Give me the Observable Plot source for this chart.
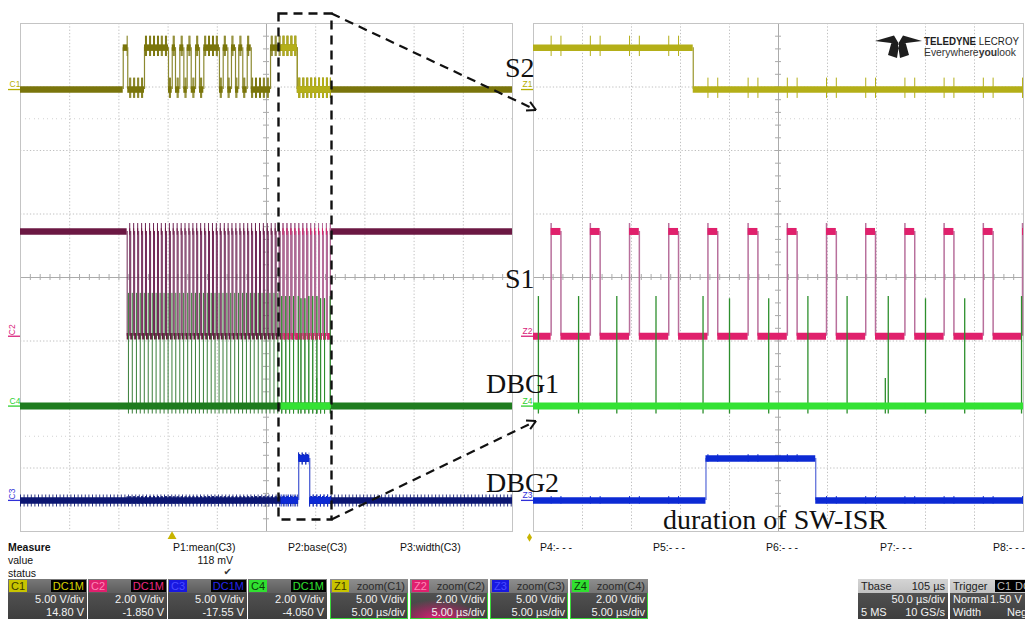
<!DOCTYPE html>
<html>
<head>
<meta charset="utf-8">
<script src="https://cdn.jsdelivr.net/npm/d3@7"></script>
<script src="https://cdn.jsdelivr.net/npm/@observablehq/plot@0.6"></script>
<style>
html,body{margin:0;padding:0;background:#fff;}
#root{position:relative;width:1025px;height:619px;overflow:hidden;background:#fff;font-family:"Liberation Sans",Arial,sans-serif;}
#root svg.panel{position:absolute;top:22px;overflow:visible;}
.m{position:absolute;font-size:10.5px;line-height:12px;color:#111;white-space:nowrap;}
.box{position:absolute;top:579px;height:40px;box-sizing:border-box;background:linear-gradient(#5a5a5a,#3e3e3e);color:#f2f2f2;font-size:11px;line-height:13px;white-space:nowrap;}
.box .h{position:relative;height:14px;line-height:14px;background:linear-gradient(#787878,#5c5c5c);}
.box .r{position:relative;height:13px;}
.box .l{position:absolute;left:3px;top:0;}
.box .rt{position:absolute;right:3px;top:0;}
.tag{position:absolute;top:1px;height:12px;line-height:12px;padding:0 2px;font-size:11px;}
</style>
</head>
<body>
<div id="root"></div>
<script>
// ---------------- data ----------------
const channels    = ["C1", "C2", "C3", "C4"];
const signalNames = ["S2", "S1", "DBG2", "DBG1"];
const vPerDiv     = [5.00, 2.00, 5.00, 2.00];          // V/div
const offsets     = [14.80, -1.850, -17.55, -4.050];   // V
const timePerDiv  = 50;     // µs/div, main timebase
const zoomPerDiv  = 5;      // µs/div, zoom traces
const zoomStart   = 265;    // µs, left edge of the zoom window
const logicHigh   = 3.3;    // V
const triggerTime = 154;    // µs
const tbaseDelay  = "105 µs";
const measureNames  = ["P1:mean(C3)", "P2:base(C3)", "P3:width(C3)", "P4:- - -", "P5:- - -", "P6:- - -", "P7:- - -", "P8:- - -"];
const measureValues = ["118 mV", "", "", "", "", "", "", ""];
const annotation = "duration of SW-ISR";

// S2 (C1): toggle times in µs, trace starts low
const s2Edges = [104.4,109.0,126.0,150.4,154.2,157.5,161.9,166.0,169.4,173.5,177.9,181.9,
                 186.3,202.2,206.0,210.7,214.4,218.5,221.8,225.9,230.4,234.5,254.1,281.3];
// S1 (C2): starts high, falls, pulse train, then rises again
const s1Fall = 108.4;
const s1FinalRise = 314.9;
const s1Pulses = [111.0,115.0,119.1,123.1,127.0,131.2,135.2,139.2,143.1,147.3,151.3,155.2,159.2,
                  163.3,167.2,171.2,175.2,179.1,183.1,187.2,191.1,195.1,199.0,203.0,207.1,211.0,
                  214.9,218.9,223.0,226.9,230.9,234.9,238.8,242.9,246.8,250.8,254.8,258.8,262.8,
                  266.8,270.8,274.8,278.8,282.8,286.9,290.9,294.9,298.9,302.9,306.9,310.9];
const s1PulseWidth = 1.0;   // µs
const s1Overshoot = 3.55;   // V, peak of each rising edge
// DBG1 (C4): short spikes
const dbg1TimesOverview = [109.7,113.6,117.8,121.7,125.8,129.8,133.9,137.8,141.9,145.9,150.0,153.9,
                           157.8,161.9,165.8,169.9,173.9,177.8,181.8,185.9,189.8,193.8,197.7,201.8,
                           205.8,209.7,213.6,217.7,221.6,225.7,229.6,233.6,237.5,241.6,245.5,249.6,
                           253.5,257.6,261.5];
const dbg1PeakOverview = 3.55;
const dbg1TimesZoom = [265.5,269.6,273.5,277.5,282.3,285.0,289.0,293.0,297.0,301.2,305.0,309.0,314.8];
const dbg1PeaksZoom = [3.45,3.45,3.45,3.45,3.45,3.38,3.38,3.45,3.45,3.45,3.38,3.38,3.45];
const dbg1GlitchTimes = [300.9];
const dbg1GlitchPeaks = [0.87];
const dbg1Undershoot = -0.25;
// DBG2 (C3): one pulse = duration of SW-ISR
const dbg2Edges = [282.6, 293.8];
// crosstalk spike amplitude (V) seen at every S1 edge
const crossUp   = [0.9, 0, 0.3, 0.08];
const crossDown = [0.7, 0, 0.3, 0.08];

// ---------------- helpers ----------------
const zoomEnd = zoomStart + 10 * zoomPerDiv;
const tEnd = 10 * timePerDiv;
const ci = ch => channels.indexOf(ch);
const yDiv = (ch, v) => (v + offsets[ci(ch)]) / vPerDiv[ci(ch)];

function steps(startV, edges, peak) {
  const segs = [], eds = [];
  let v = startV, t = 0;
  for (const e of edges) {
    const nv = v > 0 ? 0 : logicHigh;
    segs.push({t1: t, t2: e, v});
    eds.push({t: e, v1: v, v2: (peak && nv > 0) ? peak : nv});
    v = nv; t = e;
  }
  segs.push({t1: t, t2: tEnd, v});
  return {segs, eds};
}
function levelAt(st, t) {
  for (const s of st.segs) if (t >= s.t1 && t < s.t2) return s.v;
  return st.segs[st.segs.length - 1].v;
}
const s1EdgeTimes = [s1Fall, ...s1Pulses.flatMap(p => [p, p + s1PulseWidth]), s1FinalRise];
const S2 = steps(0, s2Edges);
const S1 = steps(logicHigh, s1EdgeTimes, s1Overshoot);
const D2 = steps(0, dbg2Edges);
const dbg1All = [
  ...dbg1TimesOverview.map(t => ({t, p: dbg1PeakOverview})),
  ...dbg1TimesZoom.map((t, i) => ({t, p: dbg1PeaksZoom[i]})),
  ...dbg1GlitchTimes.map((t, i) => ({t, p: dbg1GlitchPeaks[i]}))
];

const dark   = {C1:"#7a750b", C2:"#6b1843", C3:"#0b1672", C4:"#1f7c1f"};
const edgeDk = {C1:"#8c8930", C2:"#6e2454", C3:"#4652ac", C4:"#3a7f3a"};
const bright = {C1:"#b4af18", C2:"#e0206c", C3:"#0c2ad4", C4:"#34e234"};
const edgeBr = {C1:"#9a962c", C2:"#b8709c", C3:"#5668d8", C4:"#2d8f2d"};
const labelCol = {C1:"#b4ae00", C2:"#d8207a", C3:"#3030d8", C4:"#30d030"};

function clipSegs(st, a, b) {
  return st.segs.filter(s => s.t2 > a && s.t1 < b)
    .map(s => ({t1: Math.max(s.t1, a), t2: Math.min(s.t2, b), v: s.v}));
}
function stepMarks(st, a, b, ch, col, ecol, w, ew) {
  const segs = clipSegs(st, a, b);
  const eds = st.eds.filter(e => e.t >= a && e.t <= b);
  return [
    Plot.ruleX(eds, {x: "t", y1: d => yDiv(ch, d.v1), y2: d => yDiv(ch, d.v2), stroke: ecol, strokeWidth: ew}),
    Plot.ruleY(segs, {x1: "t1", x2: "t2", y: d => yDiv(ch, d.v), stroke: col, strokeWidth: w})
  ];
}
function teeth(st, a, b, ch, col, w) {
  const i = ci(ch);
  const tt = s1EdgeTimes.filter(t => t > a && t < b).map(t => ({t, v: st ? levelAt(st, t) : 0}));
  return Plot.ruleX(tt, {x: "t", y1: d => yDiv(ch, d.v + crossUp[i]), y2: d => yDiv(ch, d.v - crossDown[i]),
                         stroke: col, strokeWidth: w});
}

function panel(lo, hi, innerW, mL, mR, overview) {
  const span = hi - lo, pxX = span / innerW, pxY = 8 / 508, cx = lo + span / 2;
  const marks = [];
  // grid
  const gx = d3.range(1, 10).filter(i => i !== 5).map(i => lo + i * span / 10);
  marks.push(Plot.ruleX(gx, {x: d => d, stroke: "#c0c0c0", strokeDasharray: "1.3 2"}));
  marks.push(Plot.ruleY([-3, -2, -1, 1, 2, 3], {y: d => d, stroke: "#c0c0c0", strokeDasharray: "1.3 2"}));
  marks.push(Plot.ruleY([-2.5, 2.5], {y: d => d, stroke: "#d2d2d2", strokeDasharray: "1 4 1 3"}));
  marks.push(Plot.ruleX([cx], {x: d => d, stroke: "#ababab"}));
  marks.push(Plot.ruleY([0], {y: d => d, stroke: "#ababab"}));
  marks.push(Plot.ruleY(d3.range(-4, 4.0001, 0.2), {y: d => d, x1: cx - 3 * pxX, x2: cx + 3 * pxX, stroke: "#ababab"}));
  marks.push(Plot.ruleX(d3.range(0, 50.5, 1).map(i => lo + i * span / 50), {x: d => d, y1: -3 * pxY, y2: 3 * pxY, stroke: "#ababab"}));
  marks.push(Plot.frame({stroke: "#c4c4c4"}));

  const layers = overview
    ? [[0, tEnd, dark, edgeDk], [zoomStart, zoomEnd, bright, edgeBr]]
    : [[lo, hi, bright, edgeBr]];
  for (const [a, b, col, ecol] of layers) {
    // S1 (C2)
    marks.push(...stepMarks(S1, a, b, "C2", col.C2, ecol.C2, overview ? 6.5 : 7, overview ? 1 : 1.5));
    // DBG1 (C4)
    const sp = dbg1All.filter(d => d.t >= a && d.t <= b);
    marks.push(Plot.ruleX(sp, {x: "t", y1: yDiv("C4", dbg1Undershoot), y2: d => yDiv("C4", d.p), stroke: ecol.C4, strokeWidth: overview ? 1 : 1.3}));
    marks.push(Plot.ruleY([{t1: a, t2: b}], {x1: "t1", x2: "t2", y: yDiv("C4", 0), stroke: col.C4, strokeWidth: 7}));
    marks.push(teeth(null, a, b, "C4", col.C4, 1));
    // S2 (C1)
    marks.push(teeth(S2, a, b, "C1", col.C1, 1));
    marks.push(...stepMarks(S2, a, b, "C1", col.C1, ecol.C1, 6.5, 1.2));
    // DBG2 (C3)
    if (overview) {
      marks.push(Plot.ruleY(clipSegs(D2, a, b), {x1: "t1", x2: "t2", y: d => yDiv("C3", d.v), stroke: col.C3,
                 strokeWidth: 12, strokeDasharray: "1 2.6", strokeOpacity: 0.85}));
    }
    marks.push(teeth(D2, a, b, "C3", col.C3, 1));
    marks.push(...stepMarks(D2, a, b, "C3", col.C3, ecol.C3, 6.5, 1.2));
  }
  // ground markers and labels
  channels.forEach((ch, i) => {
    const name = overview ? ch : "Z" + (i + 1);
    const g = yDiv(ch, 0);
    const rot = overview && (ch === "C2" || ch === "C3");
    marks.push(Plot.ruleY([g], {y: d => d, x1: lo - 12 * pxX, x2: lo, stroke: labelCol[ch], strokeWidth: 1.3}));
    marks.push(Plot.text([name], {x: () => lo, y: () => g, text: d => d, fill: labelCol[ch], fontSize: 8.5,
      fontFamily: "Liberation Sans", textAnchor: "start",
      dx: rot ? -8 : -11, dy: rot ? -1 : -5, rotate: rot ? -90 : 0}));
  });
  // trigger / position marker
  if (overview) {
    marks.push(Plot.dot([triggerTime], {x: d => d, y: () => -4, dy: 5, symbol: "triangle", r: 3.3, fill: "#c8b400"}));
  } else {
    marks.push(Plot.dot([lo], {x: d => d, y: () => -4, dx: -4, dy: 6, symbol: "diamond", r: 2.6, fill: "#c8b400"}));
  }
  return Plot.plot({
    width: mL + innerW + mR, height: 518,
    marginLeft: mL, marginRight: mR, marginTop: 1, marginBottom: 9,
    x: {domain: [lo, hi], axis: null},
    y: {domain: [-4, 4], axis: null},
    style: {background: "transparent", overflow: "visible"},
    marks
  });
}

const root = document.getElementById("root");
const left = panel(0, tEnd, 492, 20, 1, true);
left.classList.add("panel"); left.style.left = "0px";
root.appendChild(left);
const right = panel(zoomStart, zoomEnd, 490, 13, 2, false);
right.classList.add("panel"); right.style.left = "520px";
root.appendChild(right);

// ---------------- overlay: annotations ----------------
const ov = d3.select(root).append("svg").attr("width", 1025).attr("height", 619)
  .style("position", "absolute").style("left", "0px").style("top", "0px");
const xs = left.scale("x");
const bx0 = Math.round(xs.apply(zoomStart)) - 3 + 0.5;
const bx1 = Math.round(xs.apply(zoomEnd)) + 1.5;
const boxTop = 13.5, boxBot = 519.5;
ov.append("path").attr("d", `M${bx0},${boxTop}H${bx1}V${boxBot}H${bx0}Z`)
  .attr("fill", "none").attr("stroke", "#111").attr("stroke-width", 2.4).attr("stroke-dasharray", "9 6");
function arrow(x1, y1, x2, y2) {
  ov.append("line").attr("x1", x1).attr("y1", y1).attr("x2", x2).attr("y2", y2)
    .attr("stroke", "#111").attr("stroke-width", 2.2).attr("stroke-dasharray", "9 6");
  const a = Math.atan2(y2 - y1, x2 - x1), L = 10;
  for (const s of [-0.5, 0.5]) {
    ov.append("line").attr("x1", x2).attr("y1", y2)
      .attr("x2", x2 - L * Math.cos(a + s)).attr("y2", y2 - L * Math.sin(a + s))
      .attr("stroke", "#111").attr("stroke-width", 2);
  }
}
arrow(bx1, boxTop, 536, 110);
arrow(bx1, boxBot, 536, 421);

// serif labels
const serif = "'Liberation Serif','Times New Roman',serif";
const labels = [
  {t: signalNames[0], x: 505, y: 77},
  {t: signalNames[1], x: 505, y: 288},
  {t: signalNames[3], x: 486, y: 393},
  {t: signalNames[2], x: 486, y: 492},
  {t: annotation, x: 663, y: 529}
];
for (const l of labels) {
  ov.append("text").attr("x", l.x).attr("y", l.y).attr("font-family", serif).attr("font-size", 28)
    .attr("fill", "#111").text(l.t);
}

// logo
ov.append("path")
  .attr("d", "M875,41 L894,35.5 L899,44 Z M922,41 L903,35.5 L898,44 Z M893,37 L899,45 L897,58 L888,55 Z M904,37 L898,45 L900,58 L909,55 Z")
  .attr("fill", "#1e1e1e");
const t1 = ov.append("text").attr("x", 924).attr("y", 44.5).attr("font-family", "Liberation Sans").attr("font-size", 11)
  .attr("fill", "#1e1e1e").attr("textLength", 95).attr("lengthAdjust", "spacingAndGlyphs");
t1.append("tspan").attr("font-weight", "bold").text("TELEDYNE");
t1.append("tspan").text(" LECROY");
const t2 = ov.append("text").attr("x", 924).attr("y", 55.5).attr("font-family", "Liberation Sans").attr("font-size", 10.5)
  .attr("fill", "#333").attr("textLength", 92).attr("lengthAdjust", "spacingAndGlyphs");
t2.append("tspan").text("Everywhere");
t2.append("tspan").attr("font-weight", "bold").text("you");
t2.append("tspan").text("look");

// ---------------- bottom: measure table ----------------
function div(cls, style, html) {
  const d = document.createElement("div"); d.className = cls; d.style.cssText = style; d.innerHTML = html;
  root.appendChild(d); return d;
}
div("m", "left:8px;top:541px;font-weight:bold;", "Measure");
div("m", "left:8px;top:554px;", "value");
div("m", "left:8px;top:567px;", "status");
const mx = [173, 288, 400, 540, 653, 766, 880, 993];
measureNames.forEach((n, i) => {
  div("m", `left:${mx[i]}px;top:541px;`, n);
  if (measureValues[i]) {
    const w = 60;
    div("m", `left:${mx[i]}px;top:554px;width:${w}px;text-align:right;`, measureValues[i]);
    div("m", `left:${mx[i]}px;top:566px;width:${w - 1}px;text-align:right;font-size:10px;color:#333;font-family:'DejaVu Sans';`, "✔");
  }
});

// channel boxes
const tagBg  = {C1:"#c8c400", C2:"#e0206e", C3:"#1818e0", C4:"#30e030"};
const tagTx  = {C1:"#3a3a00", C2:"#ff86b8", C3:"#4a4aff", C4:"#0a3a0a"};
const dcTx   = {C1:"#d8d400", C2:"#ec2a80", C3:"#2626ee", C4:"#30e030"};
channels.forEach((ch, i) => {
  const b = div("box", `left:${8 + i * 80}px;width:79px;`, "");
  b.innerHTML =
    `<div class="h"><span class="tag" style="left:1px;background:${tagBg[ch]};color:${tagTx[ch]}">${ch}</span>` +
    `<span class="tag" style="right:1px;background:#000;color:${dcTx[ch]}">DC1M</span></div>` +
    `<div class="r"><span class="rt">${vPerDiv[i].toFixed(2)} V/div</span></div>` +
    `<div class="r"><span class="rt">${offsets[i].toPrecision(4)} V</span></div>`;
});
channels.forEach((ch, i) => {
  const z = "Z" + (i + 1);
  const extra = i === 1
    ? "background:radial-gradient(ellipse 70% 60% at 35% 100%, rgba(230,30,120,0.95) 0%, rgba(200,30,110,0.55) 45%, rgba(0,0,0,0) 80%), linear-gradient(#5a5a5a,#3e3e3e);"
    : "";
  const b = div("box", `left:${330 + i * 80}px;width:78px;outline:1.6px solid #3ad63a;outline-offset:-1.6px;${extra}`, "");
  b.innerHTML =
    `<div class="h" style="background:linear-gradient(#8e8e8e,#747474);"><span class="tag" style="left:2px;background:${tagBg[ch]};color:${tagTx[ch]}">${z}</span>` +
    `<span class="rt" style="color:#2a2a2a">zoom(${ch})</span></div>` +
    `<div class="r"><span class="rt">${vPerDiv[i].toFixed(2)} V/div</span></div>` +
    `<div class="r"><span class="rt">${zoomPerDiv.toFixed(2)} µs/div</span></div>`;
});
{
  const b = div("box", "left:858px;width:90px;", "");
  b.innerHTML =
    `<div class="h" style="background:linear-gradient(#d4d4d4,#c2c2c2);color:#222"><span class="l">Tbase</span><span class="rt">${tbaseDelay}</span></div>` +
    `<div class="r"><span class="rt">${timePerDiv.toFixed(1)} µs/div</span></div>` +
    `<div class="r"><span class="l">5 MS</span><span class="rt">10 GS/s</span></div>`;
  const t = div("box", "left:950px;width:90px;", "");
  t.innerHTML =
    `<div class="h" style="background:linear-gradient(#d4d4d4,#c2c2c2);color:#222"><span class="l">Trigger</span>` +
    `<span class="tag" style="left:45px;background:#000;color:#bbb">C1</span><span class="tag" style="left:63px;background:#000;color:#bbb">DC</span></div>` +
    `<div class="r"><span class="l">Normal</span><span class="l" style="left:40px">1.50 V</span></div>` +
    `<div class="r"><span class="l">Width</span><span class="l" style="left:57px">Neg</span></div>`;
}
</script>
</body>
</html>
